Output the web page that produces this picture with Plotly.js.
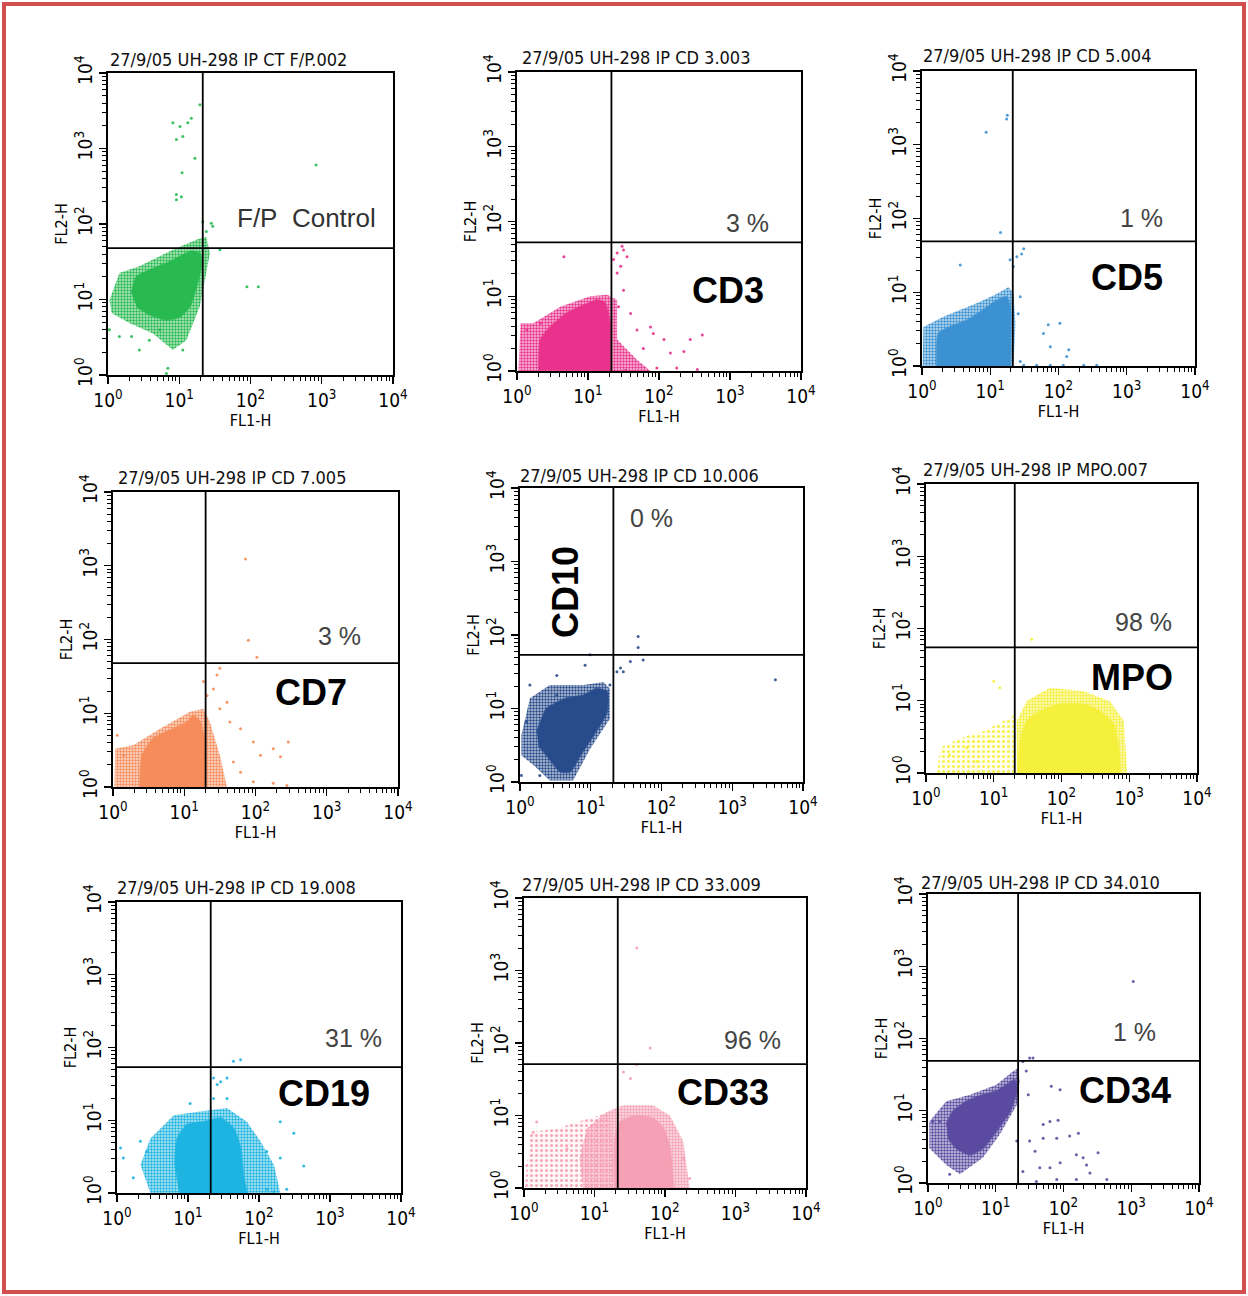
<!DOCTYPE html>
<html><head><meta charset="utf-8">
<script src="https://cdn.plot.ly/plotly-3.0.1.min.js"></script>
<style>html,body{margin:0;padding:0;background:#fff;} #chart{width:1248px;height:1296px;}</style>
</head><body><div id="chart"></div>
<script>
// ---------------- DATA (all coordinates in decades, log10 of FL1-H / FL2-H) ----------------
const headers = ["27/9/05 UH-298 IP CT F/P.002","27/9/05 UH-298 IP CD 3.003","27/9/05 UH-298 IP CD 5.004",
  "27/9/05 UH-298 IP CD 7.005","27/9/05 UH-298 IP CD 10.006","27/9/05 UH-298 IP MPO.007",
  "27/9/05 UH-298 IP CD 19.008","27/9/05 UH-298 IP CD 33.009","27/9/05 UH-298 IP CD 34.010"];
const markerNames = ["F/P Control","CD3","CD5","CD7","CD10","MPO","CD19","CD33","CD34"];
const percentLabels = ["","3 %","1 %","3 %","0 %","98 %","31 %","96 %","1 %"];
const quadX = [1.33,1.33,1.33,1.30,1.32,1.31,1.32,1.33,1.33];
const quadY = [1.68,1.72,1.69,1.68,1.73,1.74,1.73,1.71,1.69];
const tickVals = [1,10,100,1000,10000];
const tickText = ["10<sup>0</sup>","10<sup>1</sup>","10<sup>2</sup>","10<sup>3</sup>","10<sup>4</sup>"];

// Panel 1 F/P control
const core1X=[0.33,0.40,0.58,0.82,1.01,1.17,1.29,1.31,1.24,1.15,1.01,0.82,0.58,0.40];
const core1Y=[1.08,1.30,1.39,1.48,1.57,1.64,1.61,1.44,1.17,0.91,0.77,0.73,0.80,0.91];
const fringe1X=[0.02,0.16,0.44,0.91,1.24,1.38,1.43,1.38,1.29,1.10,0.91,0.63,0.30,0.05];
const fringe1Y=[0.99,1.35,1.44,1.66,1.79,1.83,1.61,1.35,0.91,0.46,0.33,0.55,0.69,0.82];
const dots1X=[0.91,1.01,1.17,1.12,0.96,1.05,1.22,1.04,0.96,1.03,0.96,1.29,2.92,1.95,2.11,0.16,0.33,0.44,0.82,0.84,1.05,1.47,1.45,1.57,1.38,1.33,0.02,0.58,0.73];
const dots1Y=[3.34,3.29,3.40,3.34,3.12,3.16,2.87,2.68,2.39,2.36,2.32,3.58,2.78,1.17,1.17,0.51,0.51,0.33,0.02,0.09,0.33,1.97,2.01,1.66,1.90,2.03,0.60,0.46,0.60];
// Panel 2 CD3
const core2X=[0.31,0.33,0.47,0.70,0.94,1.13,1.24,1.31,1.31];
const core2Y=[0.01,0.42,0.59,0.77,0.88,0.95,0.91,0.64,0];
const fringe2X=[0.02,0.05,0.23,0.61,1.03,1.27,1.41,1.41,1.69,1.88];
const fringe2Y=[0,0.64,0.64,0.86,1.00,1.02,0.95,0.42,0.15,0];
const dots2X=[0.66,1.36,1.41,1.50,1.55,1.46,1.41,1.60,1.69,1.92,2.07,2.16,2.35,2.44,2.61,2.25,2.54,1.97,1.53,1.78,1.88,1.50,1.43,0.33,0.14,1.48];
const dots2Y=[1.53,1.49,1.58,1.62,1.53,1.40,1.31,0.77,0.55,0.50,0.42,0.24,0.26,0.42,0.48,0.04,0.02,0.04,0.01,0.30,0.59,1.08,0.86,0.64,0.55,1.67];
// Panel 3 CD5
const core3X=[0.22,0.24,0.41,0.66,0.90,1.10,1.24,1.29,1.29];
const core3Y=[0,0.44,0.53,0.62,0.76,0.89,0.94,0.80,0];
const fringe3X=[0.01,0.02,0.32,0.80,1.10,1.27,1.34,1.37,1.34];
const fringe3Y=[0,0.53,0.67,0.85,0.98,1.07,0.98,0.58,0];
const dots3X=[0.94,1.25,1.24,1.15,0.56,1.29,1.39,1.49,1.46,1.34,1.41,1.44,1.78,1.85,1.88,2.02,2.15,2.12,1.49,1.68,1.88,2.07,2.37,2.56,1.44];
const dots3Y=[3.17,3.40,3.35,1.81,1.37,1.44,1.48,1.59,1.52,1.35,0.71,0.94,0.44,0.56,0.26,0.58,0.22,0.13,0.01,0.01,0.01,0.01,0.01,0.01,0.06];
// Panel 4 CD7
const core4X=[0.38,0.41,0.57,0.85,1.04,1.13,1.22,1.29,1.29];
const core4Y=[0,0.43,0.66,0.79,0.88,0.97,0.88,0.61,0];
const fringe4X=[0.02,0.03,0.29,0.66,1.08,1.27,1.36,1.50,1.60];
const fringe4Y=[0,0.52,0.57,0.79,1.02,1.06,0.88,0.43,0];
const dots4X=[1.86,1.90,2.02,1.50,1.46,1.41,1.32,1.27,1.60,1.64,1.79,1.97,2.07,2.25,2.46,2.35,1.79,1.97,2.25,2.44,1.69,0.06,0.15,1.50];
const dots4Y=[3.09,1.99,1.76,1.61,1.52,1.33,1.24,1.43,1.15,0.88,0.79,0.61,0.43,0.52,0.61,0.41,0.20,0.07,0.05,0.02,0.34,0.70,0.43,1.06];
// Panel 5 CD10
const core5X=[0.24,0.38,0.66,0.90,1.08,1.23,1.23,1.04,0.85,0.71,0.57,0.38,0.26];
const core5Y=[0.68,1.00,1.14,1.18,1.27,1.23,0.95,0.64,0.36,0.14,0.14,0.36,0.50];
const fringe5X=[0.02,0.14,0.42,0.90,1.18,1.27,1.27,0.99,0.75,0.42,0.19,0.02];
const fringe5Y=[0.64,1.14,1.32,1.32,1.36,1.27,0.86,0.45,0.02,0.02,0.23,0.36];
const dots5X=[0.99,0.92,0.52,0.14,0.52,1.42,1.46,1.37,1.56,1.67,1.74,1.67,1.27,3.61,0.02,0.28,0.09];
const dots5Y=[1.73,1.59,1.45,1.32,1.18,1.55,1.50,1.50,1.64,1.83,1.66,1.98,1.32,1.39,0.09,0.09,0.82];
// Panel 6 MPO
const core6X=[1.36,1.39,1.49,1.68,1.98,2.33,2.57,2.77,2.84,2.87];
const core6Y=[0,0.44,0.72,0.85,0.95,0.95,0.85,0.67,0.35,0];
const fringe6X=[1.34,1.34,1.49,1.83,2.33,2.72,2.92,2.97];
const fringe6Y=[0,0.72,1.0,1.18,1.13,0.99,0.72,0];
const sparse6X=[0.16,0.21,0.50,0.85,1.14,1.32,1.32];
const sparse6Y=[0,0.35,0.48,0.58,0.72,0.81,0];
const dots6X=[1.0,1.56,1.09,0.35,0.60,0.75,0.95];
const dots6Y=[1.27,1.85,1.18,0.25,0.35,0.16,0.44];
// Panel 7 CD19
const core7X=[0.89,0.82,0.85,0.99,1.22,1.46,1.64,1.74,1.78,1.83];
const core7Y=[0,0.39,0.75,0.94,0.98,1.03,0.89,0.62,0.25,0];
const fringe7X=[0.47,0.33,0.47,0.80,1.17,1.55,1.83,2.02,2.21,2.30];
const fringe7Y=[0,0.39,0.75,1.07,1.12,1.17,0.98,0.71,0.39,0];
const dots7X=[0.33,0.09,0.23,0.05,0.42,1.03,1.64,1.74,1.36,1.46,1.55,1.36,1.41,1.55,2.30,2.49,2.63,2.30,2.11,2.39,2.21,2.11];
const dots7Y=[0.71,0.48,0.21,0.62,0.57,1.23,1.81,1.83,1.58,1.53,1.58,1.30,1.49,1.30,0.98,0.82,0.37,0.48,0.57,0.05,0.02,0.05];
// Panel 8 CD33
const core8X=[1.29,1.29,1.36,1.60,1.83,1.98,2.07,2.12];
const core8Y=[0,0.68,0.91,1.00,0.96,0.82,0.54,0];
const fringe8X=[0.84,0.79,0.89,1.17,1.41,1.83,2.07,2.26,2.35];
const fringe8Y=[0,0.41,0.82,1.05,1.14,1.14,1.00,0.64,0];
const sparse8X=[0.01,0.09,0.46,0.94,1.22,1.29];
const sparse8Y=[0,0.77,0.82,0.96,1.05,0];
const dots8X=[1.60,1.79,1.60,1.41,1.51,2.26,2.35,0.13,0.18,0.04,0.61];
const dots8Y=[3.31,1.93,1.70,1.60,1.51,0.41,0.13,0.77,0.91,0.31,0.54];
// Panel 9 CD34
const core9X=[0.27,0.37,0.57,0.81,1.01,1.16,1.28,1.31,1.21,1.01,0.81,0.62,0.42,0.30];
const core9Y=[0.81,0.99,1.13,1.22,1.27,1.36,1.43,1.27,0.99,0.72,0.48,0.39,0.48,0.62];
const fringe9X=[0.02,0.27,0.62,1.01,1.26,1.33,1.35,1.31,1.06,0.81,0.47,0.27,0.02];
const fringe9Y=[0.85,1.13,1.22,1.36,1.55,1.59,1.41,1.08,0.67,0.35,0.12,0.25,0.48];
const dots9X=[1.40,1.50,1.55,1.45,1.48,1.82,1.95,1.80,1.92,1.70,1.50,1.70,1.90,2.09,2.22,1.58,1.65,1.80,1.95,2.19,2.29,2.34,2.39,2.51,1.60,1.90,2.19,2.64,0.32,0.17,0.07,3.03,1.31,1.40];
const dots9Y=[1.68,1.73,1.73,1.55,1.22,1.34,1.29,0.85,0.87,0.81,0.58,0.62,0.62,0.65,0.69,0.44,0.21,0.21,0.28,0.39,0.35,0.25,0.14,0.42,0.02,0.05,0.05,0.05,0.12,0.85,0.85,2.79,0.58,0.16];

// ---------------- STYLE / LAYOUT ----------------
const colors = [[40,185,80],[232,50,140],[60,145,210],[245,140,90],[40,75,140],[245,240,60],[30,180,225],[245,160,180],[90,75,160]];
const W = 1248, H = 1296;
const boxes = [[108,393,73,375],[517,801,72,371],[922,1195,71,366],
               [113,398,492,787],[520,803,488,782],[926,1197,484,773],
               [117,401,902,1193],[524,806,898,1188],[928,1199,894,1183]];
const headerPos = [[228,60],[636,57],[1037,55],[232,477],[639,475],[1035,470],[236,887],[642,884],[1040,882]];
const pctPos = [[0,0],[747,223],[1141,218],[340,636],[651,518],[1143,622],[353,1038],[752,1040],[1134,1032]];
const namePos = [[306,218],[728,290],[1127,278],[311,692],[565,592],[1132,677],[324,1093],[723,1092],[1125,1090]];

const cores = [[core1X,core1Y],[core2X,core2Y],[core3X,core3Y],[core4X,core4Y],[core5X,core5Y],[core6X,core6Y],[core7X,core7Y],[core8X,core8Y],[core9X,core9Y]];
const fringes = [[fringe1X,fringe1Y],[fringe2X,fringe2Y],[fringe3X,fringe3Y],[fringe4X,fringe4Y],[fringe5X,fringe5Y],[fringe6X,fringe6Y],[fringe7X,fringe7Y],[fringe8X,fringe8Y],[fringe9X,fringe9Y]];
const sparses = [null,null,null,null,null,[sparse6X,sparse6Y],null,[sparse8X,sparse8Y],null];
const dots = [[dots1X,dots1Y],[dots2X,dots2Y],[dots3X,dots3Y],[dots4X,dots4Y],[dots5X,dots5Y],[dots6X,dots6Y],[dots7X,dots7Y],[dots8X,dots8Y],[dots9X,dots9Y]];

const dec = a => a.map(v => Math.pow(10, v));
const rgba = (c, a) => `rgba(${c[0]},${c[1]},${c[2]},${a})`;
const FONT = "Liberation Sans Narrow, Arial Narrow, DejaVu Sans Condensed, sans-serif";
const BOLD = "Liberation Sans, Arial, sans-serif";

const minorVals = [];
for (let d = 0; d < 4; d++) for (let k = 2; k <= 9; k++) minorVals.push(k * Math.pow(10, d));

const traces = [];
const layout = {
  width: W, height: H, margin: {l:0, r:0, t:0, b:0},
  paper_bgcolor: "#fff", plot_bgcolor: "rgba(0,0,0,0)", showlegend: false,
  font: {family: FONT, color: "#000"},
  annotations: [], shapes: []
};

for (let i = 0; i < 9; i++) {
  const n = i + 1, sx = n === 1 ? "" : String(n);
  const xr = "x" + sx, yr = "y" + sx;
  const [L, R, T, B] = boxes[i];
  const c = colors[i];
  const common = {
    type: "log", range: [0, 4], tickmode: "array", tickvals: tickVals, ticktext: tickText,
    ticks: "outside", ticklen: 7, tickwidth: 1.3, tickcolor: "#000",
    minor: {tickmode: "array", tickvals: minorVals, ticks: "outside", ticklen: 4, tickwidth: 1, tickcolor: "#000", showgrid: false},
    showline: true, mirror: true, linecolor: "#000", linewidth: 1.8,
    showgrid: false, zeroline: false, fixedrange: true,
    tickfont: {family: FONT, size: 19, color: "#000"}
  };
  layout["xaxis" + sx] = Object.assign({}, common, {
    domain: [L / W, R / W], anchor: yr,
    title: {text: "FL1-H", standoff: 1, font: {family: FONT, size: 16, color: "#000"}}
  });
  layout["yaxis" + sx] = Object.assign({}, common, {
    domain: [1 - B / H, 1 - T / H], anchor: xr, tickangle: -90,
    title: {text: "FL2-H", standoff: 0, font: {family: FONT, size: 16, color: "#000"}}
  });

  // sparse background cloud
  if (sparses[i]) traces.push({type: "scatter", mode: "lines", x: dec(sparses[i][0]), y: dec(sparses[i][1]),
    xaxis: xr, yaxis: yr, fill: "toself", fillcolor: rgba(c, 0.1), line: {width: 0}, hoverinfo: "skip",
    fillpattern: {shape: ".", fgcolor: rgba(c, 0.9), bgcolor: rgba(c, 0.08), size: 5, solidity: 0.3}});
  // fringe
  traces.push({type: "scatter", mode: "lines", x: dec(fringes[i][0]), y: dec(fringes[i][1]),
    xaxis: xr, yaxis: yr, fill: "toself", fillcolor: rgba(c, 0.3), line: {width: 0}, hoverinfo: "skip",
    fillpattern: {shape: ".", fgcolor: rgba(c, 1), bgcolor: rgba(c, 0.3), size: 3, solidity: 0.5}});
  // core
  traces.push({type: "scatter", mode: "lines", x: dec(cores[i][0]), y: dec(cores[i][1]),
    xaxis: xr, yaxis: yr, fill: "toself", fillcolor: rgba(c, 1),
    line: {width: 2, color: rgba(c, 0.7), shape: "spline", smoothing: 0.5}, hoverinfo: "skip"});
  // individual events
  traces.push({type: "scatter", mode: "markers", x: dec(dots[i][0]), y: dec(dots[i][1]),
    xaxis: xr, yaxis: yr, marker: {size: 3, color: rgba(c, 0.9)}, hoverinfo: "skip"});
  // quadrant markers
  traces.push({type: "scatter", mode: "lines", x: [Math.pow(10, quadX[i]), Math.pow(10, quadX[i])], y: [1, 10000],
    xaxis: xr, yaxis: yr, line: {color: "#000", width: 1.8}, hoverinfo: "skip"});
  traces.push({type: "scatter", mode: "lines", x: [1, 10000], y: [Math.pow(10, quadY[i]), Math.pow(10, quadY[i])],
    xaxis: xr, yaxis: yr, line: {color: "#000", width: 1.8}, hoverinfo: "skip"});

  const A = (px, py, text, font, extra) => layout.annotations.push(Object.assign({
    xref: "paper", yref: "paper", x: px / W, y: 1 - py / H, text: text, showarrow: false,
    xanchor: "center", yanchor: "middle", font: font}, extra || {}));
  A(headerPos[i][0], headerPos[i][1], headers[i], {family: FONT, size: 18, color: "#111"});
  if (i === 0) {
    A(namePos[i][0], namePos[i][1], "F/P&nbsp;&nbsp;Control", {family: BOLD, size: 26, color: "#333"});
  } else {
    A(pctPos[i][0], pctPos[i][1], percentLabels[i], {family: BOLD, size: 25, color: "#444"});
    A(namePos[i][0], namePos[i][1], "<b>" + markerNames[i] + "</b>", {family: BOLD, size: 36, color: "#000"},
      i === 4 ? {textangle: -90} : {});
  }
}

layout.shapes.push({type: "rect", xref: "paper", yref: "paper", x0: 4 / W, x1: 1 - 4 / W, y0: 4 / H, y1: 1 - 4 / H,
  line: {color: "#d05050", width: 4}, fillcolor: "rgba(0,0,0,0)"});

Plotly.newPlot("chart", traces, layout, {staticPlot: true, displayModeBar: false});
</script>
</body></html>
